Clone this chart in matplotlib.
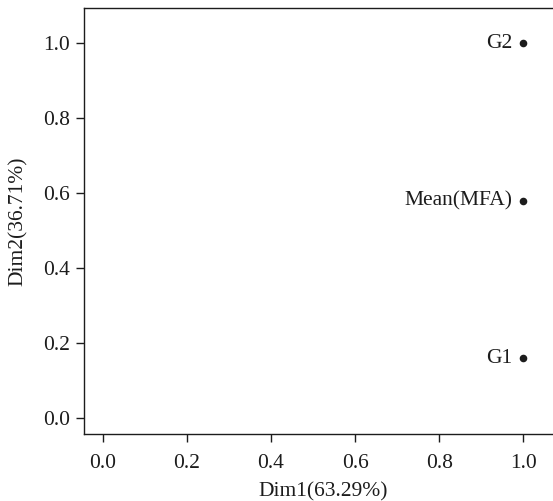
import matplotlib
matplotlib.use("Agg")
import matplotlib.pyplot as plt

# Individual factor map: groups projected on the first two dimensions
groups = ["G2", "Mean(MFA)", "G1"]
dim1 = [1.0, 1.0, 1.0]
dim2 = [1.0, 0.58, 0.16]
ticks = [0.0, 0.2, 0.4, 0.6, 0.8, 1.0]
xlabel = "Dim1(63.29%)"
ylabel = "Dim2(36.71%)"

ink = "#1c1c1c"
plt.rcParams["font.family"] = ["Liberation Serif", "DejaVu Serif"]
plt.rcParams["font.size"] = 15.5

fig = plt.figure(figsize=(5.53, 5.01), dpi=100)
W, H = 553, 501
left, right, top, bottom = 84, 553, 8, 434.3
ax = fig.add_axes([left / W, (H - bottom) / H, (right - left) / W, (bottom - top) / H])

ax.scatter(dim1, dim2, s=30, color=ink, zorder=3, linewidths=0)
for name, x, y in zip(groups, dim1, dim2):
    ax.annotate(name, (x, y), xytext=(-8, 0), textcoords="offset points",
                ha="right", va="center", color=ink, fontsize=15.5)

ax.set_xlim(-0.0444, 1.0706)
ax.set_ylim(-0.0427, 1.094)
ax.set_xticks(ticks)
ax.set_yticks(ticks)
ax.set_xticklabels([f"{t:.1f}" for t in ticks])
ax.set_yticklabels([f"{t:.1f}" for t in ticks])
ax.set_xlabel(xlabel, color=ink, labelpad=7)
ax.set_ylabel(ylabel, color=ink, labelpad=11)
ax.xaxis.label.set_x(0.51)

for side in ("left", "bottom", "top"):
    ax.spines[side].set_linewidth(1.0)
    ax.spines[side].set_color(ink)
ax.spines["right"].set_visible(False)
ax.tick_params(length=5.5, width=1.0, color=ink, labelcolor=ink)
ax.tick_params(axis="x", pad=8.5)
ax.tick_params(axis="y", pad=4.5)

fig.savefig("out.png", dpi=100)
